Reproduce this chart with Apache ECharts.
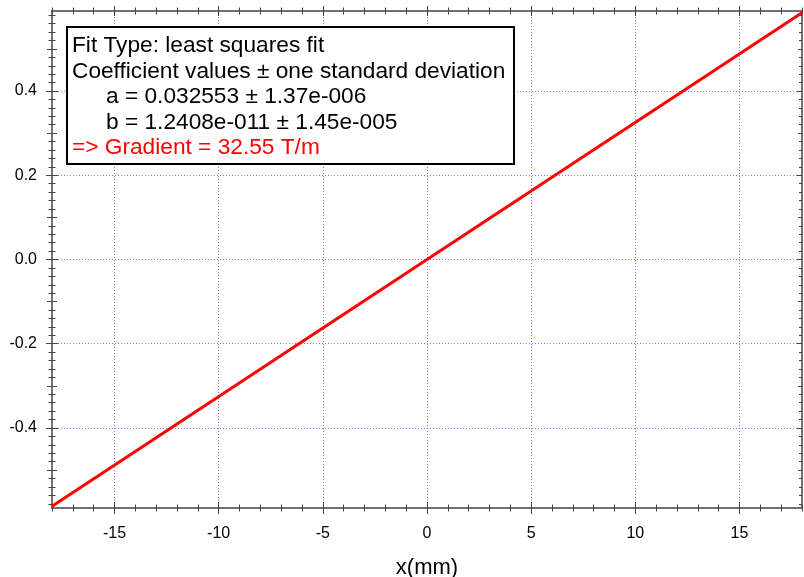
<!DOCTYPE html>
<html>
<head>
<meta charset="utf-8">
<script src="https://cdn.jsdelivr.net/npm/echarts@6/dist/echarts.min.js"></script>
<style>html,body{margin:0;padding:0;background:#fff}#c{width:804px;height:577px}</style>
</head>
<body>
<div id="c"></div>
<script>
// ---- data ----
const xValues = [-18, 18];
const yValues = [-0.586, 0.586];
const xRange = [-18, 18];
const yRange = [-0.59, 0.59];
const xMajor = [-15, -10, -5, 0, 5, 10, 15];
const yMajor = [-0.4, -0.2, 0, 0.2, 0.4];
const yMid = [-0.5, -0.3, -0.1, 0.1, 0.3, 0.5];
const xMinor = [];
for (let i = -18; i <= 18; i++) xMinor.push(i);
const yMinor = [];
for (let i = -29; i <= 29; i++) yMinor.push(+(i * 0.02).toFixed(2));
const xName = 'x(mm)';
const boxLines = [
  'Fit Type: least squares fit',
  'Coefficient values \u00b1 one standard deviation',
  'a = 0.032553 \u00b1 1.37e-006',
  'b = 1.2408e-011 \u00b1 1.45e-005',
  '=> Gradient = 32.55 T/m'
];
const boxIndent = [false, false, true, true, false];

const FONT = 'Arial, "Liberation Sans", sans-serif';
const AX = '#444';

function tickAxis(position, range, values, len, inside) {
  return {
    type: 'value', position: position, min: range[0], max: range[1],
    axisLine: { show: false, onZero: false },
    axisLabel: { show: false },
    splitLine: { show: false },
    axisTick: { show: true, inside: inside, length: len, customValues: values,
      lineStyle: { color: AX, width: 1 } }
  };
}

const xAxes = [
  {
    type: 'value', position: 'bottom', min: xRange[0], max: xRange[1],
    name: xName, nameLocation: 'middle', nameGap: 49,
    nameTextStyle: { fontSize: 22, color: '#000', fontFamily: FONT },
    axisLine: { show: true, onZero: false, lineStyle: { color: AX, width: 1.5 } },
    axisTick: { show: true, inside: false, length: 6, customValues: xMajor, lineStyle: { color: AX, width: 1 } },
    axisLabel: { show: true, customValues: xMajor, margin: 18, fontSize: 16, color: '#000', fontFamily: FONT,
      formatter: v => String(v) },
    splitLine: { show: true, lineStyle: { color: '#7a7aff', type: [1, 2], width: 1 } }
  },
  tickAxis('bottom', xRange, xMajor, 6, true),
  tickAxis('bottom', xRange, xMinor, 3.5, false),
  tickAxis('bottom', xRange, xMinor, 3.5, true),
  Object.assign(tickAxis('top', xRange, xMajor, 5, false),
    { axisLine: { show: true, onZero: false, lineStyle: { color: AX, width: 1.5 } } }),
  tickAxis('top', xRange, xMajor, 5, true),
  tickAxis('top', xRange, xMinor, 3.5, false),
  tickAxis('top', xRange, xMinor, 3.5, true)
];

const yAxes = [
  {
    type: 'value', position: 'left', min: yRange[0], max: yRange[1],
    axisLine: { show: true, onZero: false, lineStyle: { color: AX, width: 1.5 } },
    axisTick: { show: true, inside: false, length: 6, customValues: yMajor, lineStyle: { color: AX, width: 1 } },
    axisLabel: { show: true, customValues: yMajor, margin: 15, fontSize: 16, color: '#000', fontFamily: FONT,
      formatter: v => v.toFixed(1) },
    splitLine: { show: true, lineStyle: { color: '#7a7aff', type: [1, 2], width: 1 } }
  },
  tickAxis('left', yRange, yMajor, 6, true),
  tickAxis('left', yRange, yMid, 5, false),
  tickAxis('left', yRange, yMid, 5, true),
  tickAxis('left', yRange, yMinor, 3.5, false),
  tickAxis('left', yRange, yMinor, 3.5, true),
  Object.assign(tickAxis('right', yRange, yMajor, 5, true),
    { axisLine: { show: true, onZero: false, lineStyle: { color: AX, width: 1.5 } } }),
  tickAxis('right', yRange, yMid, 4, true),
  tickAxis('right', yRange, yMinor, 3, true)
];

const textEls = boxLines.map((t, i) => ({
  type: 'text', left: boxIndent[i] ? 106 : 72, top: 34.2 + i * 25.6,
  style: { text: t, font: '22.7px ' + FONT, fill: i === 4 ? '#ff0000' : '#000', textVerticalAlign: 'top' },
  z: 101
}));

const chart = echarts.init(document.getElementById('c'), null, { renderer: 'canvas' });
chart.setOption({
  animation: false,
  backgroundColor: '#fff',
  grid: { left: 52, right: 2, top: 11, bottom: 69, containLabel: false, outerBoundsMode: 'none' },
  xAxis: xAxes,
  yAxis: yAxes,
  series: [{
    type: 'line', xAxisIndex: 0, yAxisIndex: 0,
    data: xValues.map((x, i) => [x, yValues[i]]),
    showSymbol: false, symbol: 'none',
    lineStyle: { color: '#ff0000', width: 3 },
    z: 5
  }],
  graphic: [
    { type: 'rect', shape: { x: 67, y: 27, width: 447, height: 137 },
      style: { fill: '#fff', stroke: '#000', lineWidth: 2 }, z: 100 }
  ].concat(textEls)
});
</script>
</body>
</html>
